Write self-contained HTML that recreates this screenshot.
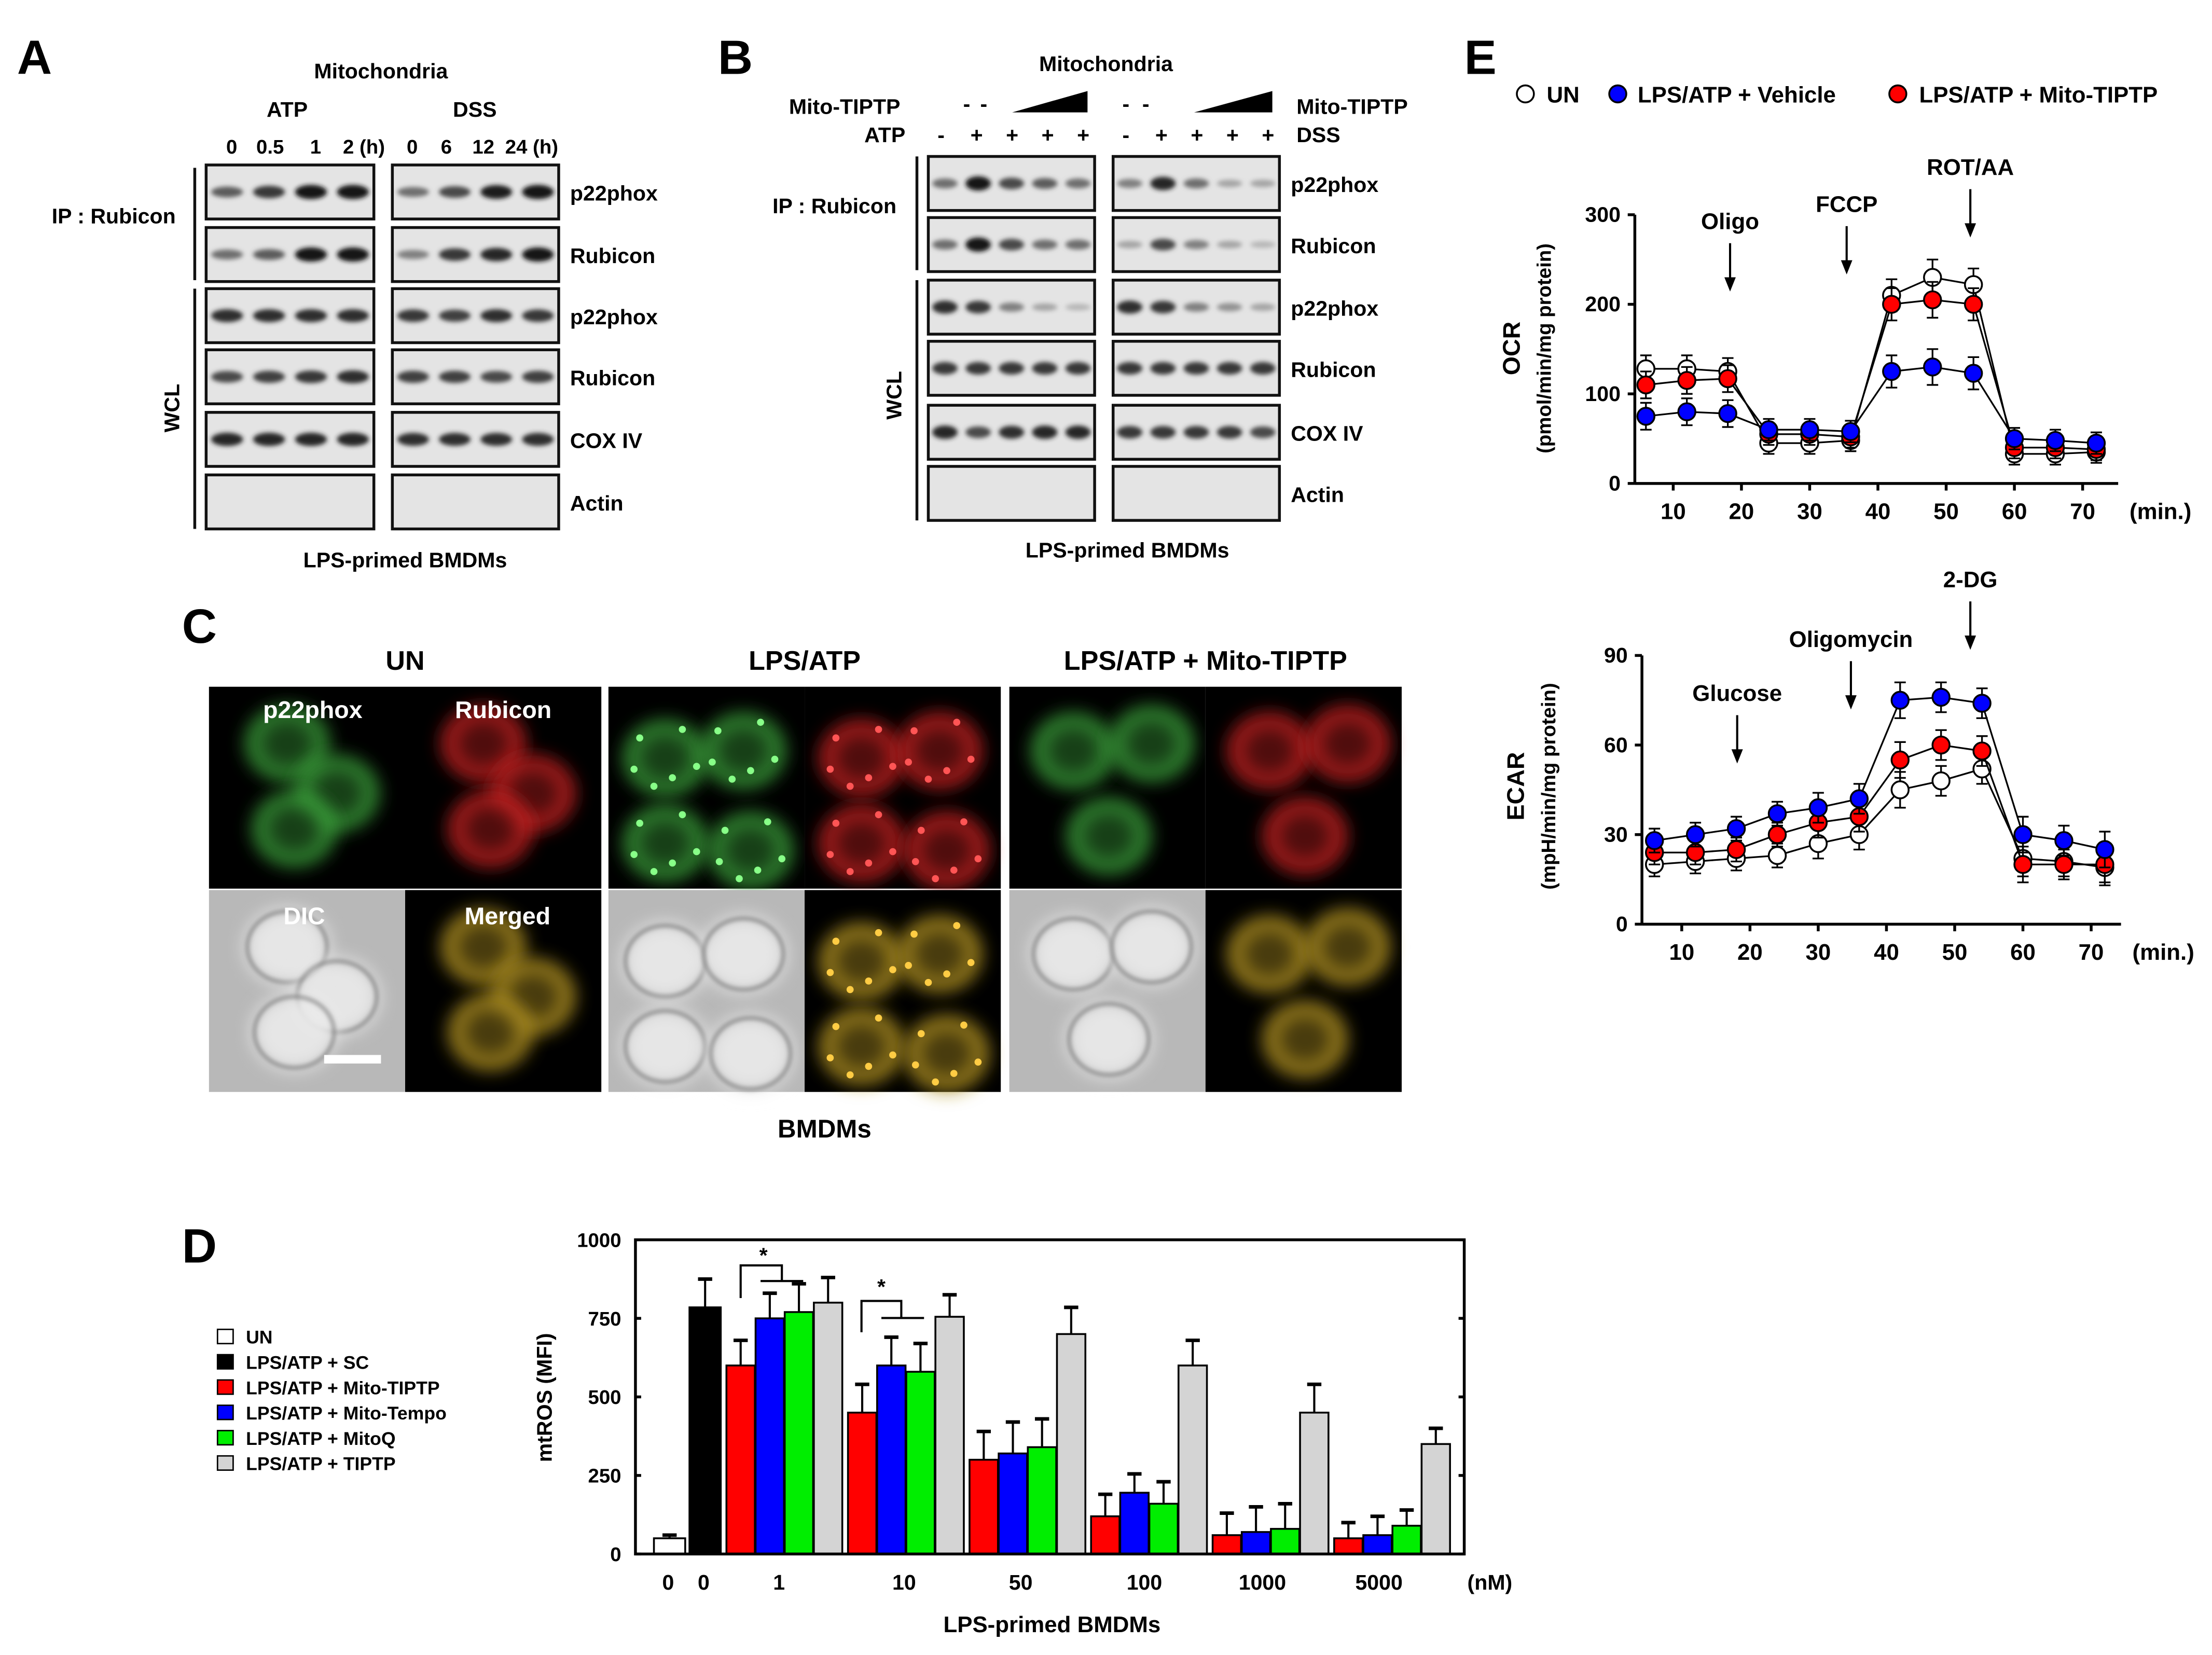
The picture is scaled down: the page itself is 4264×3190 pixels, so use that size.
<!DOCTYPE html>
<html><head><meta charset="utf-8">
<style>
html,body{margin:0;padding:0;background:#fff;}
svg{display:block;font-family:"Liberation Sans",Arial,sans-serif;font-weight:bold;}
</style></head>
<body>
<svg id="fig" xmlns="http://www.w3.org/2000/svg" width="4264" height="3190" viewBox="0 0 1556 1164">
<defs>
<filter id="blur2" x="-50%" y="-50%" width="200%" height="200%"><feGaussianBlur stdDeviation="1.6"/></filter>
<filter id="blur6" x="-50%" y="-50%" width="200%" height="200%"><feGaussianBlur stdDeviation="6"/></filter>
<filter id="blur3" x="-50%" y="-50%" width="200%" height="200%"><feGaussianBlur stdDeviation="2.5"/></filter>
</defs>
<g id="root"></g>
</svg>
<script>
// ---------- data: panel D ----------
const dCategories = ['0','0','1','10','50','100','1000','5000'];
const dUN = [50];
const dUNerr = [10];
const dSC = [785];
const dSCerr = [90];
const dMitoTIPTP = [600,450,300,120,60,50];
const dMitoTIPTPerr = [80,90,90,70,70,50];
const dMitoTempo = [750,600,320,195,70,60];
const dMitoTempoErr = [80,90,100,60,80,60];
const dMitoQ = [770,580,340,160,80,90];
const dMitoQerr = [90,90,90,70,80,50];
const dTIPTP = [800,755,700,600,450,350];
const dTIPTPerr = [80,70,85,80,90,50];
const dYTicks = [0,250,500,750,1000];
// ---------- data: panel E ----------
const eTime = [6,12,18,24,30,36,42,48,54,60,66,72];
const eXTicks = [10,20,30,40,50,60,70];
const ocrUN = [128,128,125,45,45,48,210,230,222,33,33,35];
const ocrVeh = [75,80,78,60,60,58,125,130,123,50,48,45];
const ocrMito = [110,115,117,55,55,52,200,205,200,40,40,38];
const ocrErr = [15,15,15,12,12,12,18,20,18,12,12,12];
const ocrYTicks = [0,100,200,300];
const ecarUN = [20,21,22,23,27,30,45,48,52,22,21,19];
const ecarVeh = [28,30,32,37,39,42,75,76,74,30,28,25];
const ecarMito = [24,24,25,30,34,36,55,60,58,20,20,20];
const ecarErr = [4,4,4,4,5,5,6,5,5,6,5,6];
const ecarYTicks = [0,30,60,90];

const NS='http://www.w3.org/2000/svg';
const root=document.getElementById('root');
function mk(tag,attrs,parent){const e=document.createElementNS(NS,tag);for(const k in attrs)e.setAttribute(k,attrs[k]);(parent||root).appendChild(e);return e;}
function txt(x,y,s,size,anchor,parent,extra){const e=mk('text',Object.assign({x:x,y:y,'font-size':size,'text-anchor':anchor||'middle'},extra||{}),parent);e.textContent=s;return e;}

// ---------- panel labels ----------
[['A',12,52],['B',505,52],['C',128,452],['D',128,888],['E',1030,52]].forEach(p=>{
 const t=txt(p[1],p[2],p[0],34,'start');
 
 
});

// ---------- blots ----------
function blotBox(x,y,w,h,intens,name,g){
 const r=mk('rect',{x:x,y:y,width:w,height:h,fill:'#e4e4e4',stroke:'#111','stroke-width':2},g);
 
 
 const n=intens.length;const lw=w/n;
 intens.forEach((v,i)=>{
  if(v<=0)return;
  const c=Math.round(200-180*v);
  mk('ellipse',{cx:x+lw*(i+0.5),cy:y+h/2,rx:lw*0.38,ry:2+3*v,fill:'rgb('+c+','+c+','+c+')',filter:'url(#blur2)'},g);
 });
}
// panel A
const gA=mk('g',{});


txt(268,55,'Mitochondria',15,'middle',gA);
txt(202,82,'ATP',15,'middle',gA);txt(334,82,'DSS',15,'middle',gA);
[['0',163],['0.5',190],['1',222],['2 (h)',256],['0',290],['6',314],['12',340],['24 (h)',374]].forEach(t=>txt(t[1],108,t[0],14,'middle',gA));
const rowsA=[['p22phox',116,[.6,.8,1,1],[.5,.7,.95,1]],['Rubicon',160,[.5,.6,1,1],[.4,.8,.9,1]],['p22phox',203,[.85,.85,.85,.85],[.8,.75,.85,.8]],['Rubicon',246,[.7,.75,.8,.85],[.75,.75,.7,.75]],['COX IV',290,[.9,.9,.9,.9],[.85,.85,.85,.85]],['Actin',334,[0,0,0,0],[0,0,0,0]]];
rowsA.forEach((r,i)=>{blotBox(145,r[1],118,38,r[2],'blot-a-left-'+i,gA);blotBox(276,r[1],117,38,r[3],'blot-a-right-'+i,gA);txt(401,r[1]+25,r[0],15,'start',gA);});
txt(80,157,'IP : Rubicon',15,'middle',gA);
mk('line',{x1:137,y1:118,x2:137,y2:197,stroke:'#111','stroke-width':2},gA);
mk('line',{x1:137,y1:203,x2:137,y2:372,stroke:'#111','stroke-width':2},gA);
txt(0,0,'WCL',15,'middle',gA,{transform:'translate(126,287) rotate(-90)'});
txt(285,399,'LPS-primed BMDMs',15,'middle',gA);
// panel B
const gB=mk('g',{});


txt(778,50,'Mitochondria',15,'middle',gB);
txt(555,80,'Mito-TIPTP',15,'start',gB);txt(912,80,'Mito-TIPTP',15,'start',gB);
txt(680,78,'-',15,'middle',gB);txt(692,78,'-',15,'middle',gB);txt(792,78,'-',15,'middle',gB);txt(806,78,'-',15,'middle',gB);
mk('polygon',{points:'712,79 765,64 765,79',fill:'#000'},gB);mk('polygon',{points:'840,79 895,64 895,79',fill:'#000'},gB);
txt(608,100,'ATP',15,'start',gB);txt(912,100,'DSS',15,'start',gB);
['-','+','+','+','+'].forEach((s,i)=>{txt(662+i*25,100,s,15,'middle',gB);txt(792+i*25,100,s,15,'middle',gB);});
const rowsB=[['p22phox',110,[.5,1,.7,.6,.5],[.4,.9,.5,.2,.2]],['Rubicon',153,[.5,1,.7,.5,.5],[.2,.7,.4,.2,.1]],['p22phox',197,[.85,.8,.4,.2,.1],[.85,.8,.4,.3,.2]],['Rubicon',240,[.8,.8,.8,.8,.8],[.8,.8,.8,.8,.8]],['COX IV',285,[.9,.7,.85,.9,.9],[.8,.8,.8,.8,.7]],['Actin',328,[0,0,0,0,0],[0,0,0,0,0]]];
rowsB.forEach((r,i)=>{blotBox(653,r[1],117,38,r[2],'blot-b-left-'+i,gB);blotBox(783,r[1],117,38,r[3],'blot-b-right-'+i,gB);txt(908,r[1]+25,r[0],15,'start',gB);});
txt(587,150,'IP : Rubicon',15,'middle',gB);
mk('line',{x1:645,y1:110,x2:645,y2:190,stroke:'#111','stroke-width':2},gB);
mk('line',{x1:645,y1:197,x2:645,y2:366,stroke:'#111','stroke-width':2},gB);
txt(0,0,'WCL',15,'middle',gB,{transform:'translate(634,278) rotate(-90)'});
txt(793,392,'LPS-primed BMDMs',15,'middle',gB);

// ---------- panel C microscopy ----------
const gC=mk('g',{});


txt(285,471,'UN',19,'middle',gC);txt(566,471,'LPS/ATP',19,'middle',gC);txt(848,471,'LPS/ATP + Mito-TIPTP',19,'middle',gC);
const groupsX=[147,428,710];
const cells=[[[55,40],[90,75],[60,100]],[[40,50],[95,45],[40,110],[100,115]],[[45,45],[100,40],[70,105]]];
groupsX.forEach((gx,gi)=>{
 const types=[['#000','rgba(60,170,60,0.75)'],['#000','rgba(200,30,30,0.8)'],['#b8b8b8','rgba(235,235,235,0.9)'],['#000','rgba(170,140,30,0.85)']];
 types.forEach((t,ti)=>{
  const x=gx+(ti%2)*138,y=483+Math.floor(ti/2)*143;
  const r=mk('rect',{x:x,y:y,width:138,height:142,fill:t[0]},gC);
  
  
  const cg=mk('g',{},gC);
  cells[gi].forEach(c=>{
   mk('ellipse',{cx:x+c[0],cy:y+c[1],rx:30,ry:27,fill:t[1],filter:'url(#blur6)'},cg);
   if(ti!==2){mk('ellipse',{cx:x+c[0],cy:y+c[1],rx:18,ry:16,fill:'rgba(0,0,0,0.5)',filter:'url(#blur6)'},cg);}
   else{mk('ellipse',{cx:x+c[0],cy:y+c[1],rx:28,ry:25,fill:'none',stroke:'rgba(90,90,90,0.7)','stroke-width':2,filter:'url(#blur2)'},cg);}
  });
  if(gi===1&&ti!==2){cells[1].forEach(c=>{for(let k=0;k<6;k++){mk('circle',{cx:x+c[0]+[-18,12,22,-8,5,-22][k],cy:y+c[1]+[-14,-20,6,20,14,8][k],r:2.5,fill:ti===0?'#8f8':ti===1?'#f55':'#fc4'},cg);}});}
 });
});
txt(220,505,'p22phox',17,'middle',gC,{fill:'#fff'});txt(354,505,'Rubicon',17,'middle',gC,{fill:'#fff'});
txt(214,650,'DIC',17,'middle',gC,{fill:'#fff'});txt(357,650,'Merged',17,'middle',gC,{fill:'#fff'});
mk('rect',{x:228,y:742,width:40,height:6,fill:'#fff'},gC);
txt(580,800,'BMDMs',18,'middle',gC);

// ---------- panel D bar chart ----------
const gD=mk('g',{});


const dY0=1093,dY1=872,dX0=447,dX1=1030;
const dy=v=>dY0-(v/1000)*(dY0-dY1);
function bar(x,w,v,e,fill,name){
 mk('line',{x1:x+w/2,y1:dy(v),x2:x+w/2,y2:dy(v+e),stroke:'#000','stroke-width':1.5},gD);
 mk('line',{x1:x+w/2-5,y1:dy(v+e),x2:x+w/2+5,y2:dy(v+e),stroke:'#000','stroke-width':2.5},gD);
 const r=mk('rect',{x:x,y:dy(v),width:w,height:dY0-dy(v),fill:fill,stroke:'#000','stroke-width':1.3},gD);
 
 
}
bar(460,22,dUN[0],dUNerr[0],'#fff','bar-un');
bar(485,22,dSC[0],dSCerr[0],'#000','bar-sc');
const series=[[dMitoTIPTP,dMitoTIPTPerr,'#f00','mito-tiptp'],[dMitoTempo,dMitoTempoErr,'#00f','mito-tempo'],[dMitoQ,dMitoQerr,'#0e0','mitoq'],[dTIPTP,dTIPTPerr,'#d4d4d4','tiptp']];
const gw=85.5;
for(let g=0;g<6;g++){series.forEach((s,si)=>{bar(511+g*gw+si*20.5,20,s[0][g],s[1][g],s[2],'bar-'+s[3]+'-'+dCategories[g+2]);});}
const ax=mk('rect',{x:dX0,y:dY1,width:dX1-dX0,height:dY0-dY1,fill:'none',stroke:'#000','stroke-width':2},gD);


dYTicks.forEach(v=>{txt(dX0-10,dy(v)+5,String(v),14,'end',gD);mk('line',{x1:dX0,y1:dy(v),x2:dX0+4,y2:dy(v),stroke:'#000','stroke-width':2},gD);mk('line',{x1:dX1-4,y1:dy(v),x2:dX1,y2:dy(v),stroke:'#000','stroke-width':2},gD);});
const catX=[470,495,548,636,718,805,888,970];
dCategories.forEach((c,i)=>txt(catX[i],1118,c,15,'middle',gD));
txt(1048,1118,'(nM)',15,'middle',gD);
txt(0,0,'mtROS (MFI)',15,'middle',gD,{transform:'translate(388,983) rotate(-90)'});
txt(740,1148,'LPS-primed BMDMs',16,'middle',gD);
// significance
mk('polyline',{points:'521,913 521,890 550,890 550,901',fill:'none',stroke:'#000','stroke-width':1.5},gD);
mk('line',{x1:535,y1:901,x2:565,y2:901,stroke:'#000','stroke-width':1.5},gD);
txt(537,888,'*',15,'middle',gD);
mk('polyline',{points:'606,937 606,915 634,915 634,927',fill:'none',stroke:'#000','stroke-width':1.5},gD);
mk('line',{x1:620,y1:927,x2:650,y2:927,stroke:'#000','stroke-width':1.5},gD);
txt(620,910,'*',15,'middle',gD);
// legend
const legD=[['UN','#fff'],['LPS/ATP + SC','#000'],['LPS/ATP + Mito-TIPTP','#f00'],['LPS/ATP + Mito-Tempo','#00f'],['LPS/ATP + MitoQ','#0e0'],['LPS/ATP + TIPTP','#d4d4d4']];
legD.forEach((l,i)=>{const y=940+i*17.8;const r=mk('rect',{x:153,y:y-5,width:11,height:10,fill:l[1],stroke:'#000','stroke-width':1},gD);
 
 
 txt(173,y+5,l[0],13,'start',gD);});

// ---------- panel E line charts ----------
function lineChart(cfg){
 const g=mk('g',{});
 
 
 const xp=t=>cfg.x0+(t-cfg.t0)*cfg.px;
 const yp=v=>cfg.yb-(v/cfg.ymax)*(cfg.yb-cfg.yt);
 mk('line',{x1:cfg.ax,y1:cfg.yt,x2:cfg.ax,y2:cfg.yb,stroke:'#000','stroke-width':2},g);
 mk('line',{x1:cfg.ax,y1:cfg.yb,x2:cfg.axEnd,y2:cfg.yb,stroke:'#000','stroke-width':2},g);
 cfg.yt_.forEach(v=>{mk('line',{x1:cfg.ax-5,y1:yp(v),x2:cfg.ax,y2:yp(v),stroke:'#000','stroke-width':2},g);txt(cfg.ax-10,yp(v)+5,String(v),15,'end',g);});
 eXTicks.forEach(v=>{mk('line',{x1:xp(v),y1:cfg.yb,x2:xp(v),y2:cfg.yb+5,stroke:'#000','stroke-width':2},g);txt(xp(v),cfg.yb+25,String(v),16,'middle',g);});
 txt(cfg.axEnd+8,cfg.yb+25,'(min.)',16,'start',g);
 cfg.series.forEach(s=>{
  const pts=eTime.map((t,i)=>xp(t)+','+yp(s[0][i])).join(' ');
  const pl=mk('polyline',{points:pts,fill:'none',stroke:'#000','stroke-width':1.2},g);
  
  
  eTime.forEach((t,i)=>{
   mk('line',{x1:xp(t),y1:yp(s[0][i]-cfg.err[i]),x2:xp(t),y2:yp(s[0][i]+cfg.err[i]),stroke:'#000','stroke-width':1.2},g);
   mk('line',{x1:xp(t)-4,y1:yp(s[0][i]+cfg.err[i]),x2:xp(t)+4,y2:yp(s[0][i]+cfg.err[i]),stroke:'#000','stroke-width':1.2},g);
   mk('line',{x1:xp(t)-4,y1:yp(s[0][i]-cfg.err[i]),x2:xp(t)+4,y2:yp(s[0][i]-cfg.err[i]),stroke:'#000','stroke-width':1.2},g);
  });
  eTime.forEach((t,i)=>{const c=mk('circle',{cx:xp(t),cy:yp(s[0][i]),r:6,fill:s[1],stroke:'#000','stroke-width':1.3},g);
   
   });
 });
 cfg.arrows.forEach(a=>{txt(a[0],a[1],a[2],16,'middle',g);mk('line',{x1:a[0],y1:a[1]+10,x2:a[0],y2:a[1]+38,stroke:'#000','stroke-width':1.5},g);mk('polygon',{points:(a[0]-4)+','+(a[1]+34)+' '+(a[0]+4)+','+(a[1]+34)+' '+a[0]+','+(a[1]+44),fill:'#000'},g);});
 txt(0,0,cfg.ylab,17,'middle',g,{transform:'translate('+cfg.ylx+','+cfg.ylc+') rotate(-90)'});
 txt(0,0,cfg.ylab2,14,'middle',g,{transform:'translate('+(cfg.ylx+22)+','+cfg.ylc+') rotate(-90)'});
}
lineChart({name:'ocr-chart',x0:1177,t0:10,px:4.8,yb:340,yt:151,ymax:300,ax:1150,axEnd:1490,yt_:ocrYTicks,err:ocrErr,
 series:[[ocrUN,'#fff','un'],[ocrMito,'#f00','mito-tiptp'],[ocrVeh,'#00f','vehicle']],
 arrows:[[1217,161,'Oligo'],[1299,149,'FCCP'],[1386,123,'ROT/AA']],ylab:'OCR',ylab2:'(pmol/min/mg protein)',ylx:1069,ylc:245});
lineChart({name:'ecar-chart',x0:1183,t0:10,px:4.8,yb:650,yt:461,ymax:90,ax:1155,axEnd:1492,yt_:ecarYTicks,err:ecarErr,
 series:[[ecarUN,'#fff','un'],[ecarMito,'#f00','mito-tiptp'],[ecarVeh,'#00f','vehicle']],
 arrows:[[1222,493,'Glucose'],[1302,455,'Oligomycin'],[1386,413,'2-DG']],ylab:'ECAR',ylab2:'(mpH/min/mg protein)',ylx:1072,ylc:553});
// legend E
const legE=[[1073,'#fff','UN',1088],[1138,'#00f','LPS/ATP + Vehicle',1152],[1335,'#f00','LPS/ATP + Mito-TIPTP',1350]];
legE.forEach((l,i)=>{const c=mk('circle',{cx:l[0],cy:66,r:6,fill:l[1],stroke:'#000','stroke-width':1.3});
 
 
 txt(l[3],72,l[2],16,'start');});
</script>
</body></html>
